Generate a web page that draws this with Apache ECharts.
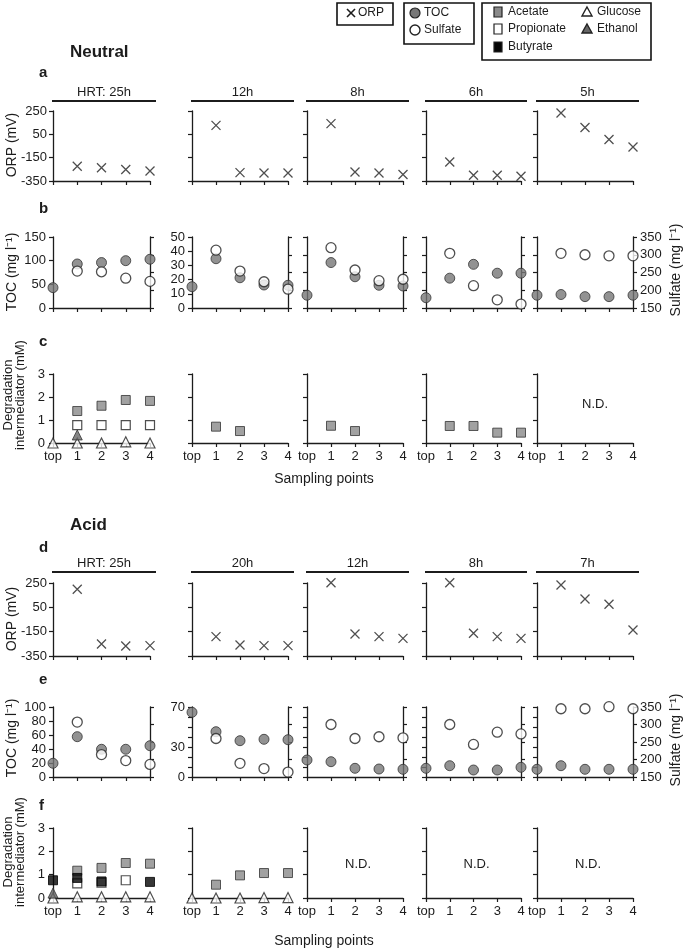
<!DOCTYPE html>
<html><head><meta charset="utf-8">
<script src="https://cdn.jsdelivr.net/npm/echarts@6/dist/echarts.min.js"></script>
<style>html,body{margin:0;padding:0;background:#fff}#c{width:685px;height:951px}</style>
</head><body><div id="c"></div>
<script>
// ---------------- DATA ----------------
const categories = ['top', '1', '2', '3', '4'];
const hrtNeutral = ['HRT: 25h', '12h', '8h', '6h', '5h'];
const hrtAcid = ['HRT: 25h', '20h', '12h', '8h', '7h'];
const N5 = [null, null, null, null, null];

// ORP (mV) ticks
const orpTicks = [-350, -150, 50, 250];

// Neutral: ORP (mV), per HRT column
const orpNeutral = [
  [null, -224, -236, -252, -264],
  [null, 127, -278, -282, -282],
  [null, 142, -273, -281, -295],
  [null, -187, -301, -301, -310],
  [null, 233, 108, 5, -58]
];
// Neutral: TOC (mg/l) (columns 3-5 on an unlabelled 0-100 axis)
const tocNeutral = [
  [43, 93, 96, 100, 103],
  [15, 34.7, 21.3, 16.2, 16],
  [18, 64, 44, 32, 31],
  [14.5, 42, 61.5, 49, 49],
  [18, 19, 16, 16, 18]
];
const sulfateNeutral = [
  [null, 254, 252, 234, 225],
  [null, 313, 254, 224, 203],
  [null, 320, 257, 227, 231],
  [null, 304, 213, 173, 161],
  [null, 304, 300, 297, 297]
];
const tocAxisNeutral = [[0, 150, 50], [0, 50, 10], [0, 100, 25], [0, 100, 25], [0, 100, 25]];
const tocLabelsNeutral = [[0, 50, 100, 150], [0, 10, 20, 30, 40, 50], [], [], []];
const sulfateAxis = [150, 350, 50];

// Neutral: degradation intermediates (mM)
const acetateNeutral = [
  [null, 1.39, 1.62, 1.87, 1.83],
  [null, 0.71, 0.52, null, null],
  [null, 0.75, 0.52, null, null],
  [null, 0.74, 0.74, 0.45, 0.45],
  N5
];
const propionateNeutral = [[null, 0.78, 0.78, 0.78, 0.78], N5, N5, N5, N5];
const butyrateNeutral = [N5, N5, N5, N5, N5];
const glucoseNeutral = [[0, 0, 0, 0.05, 0], N5, N5, N5, N5];
const ethanolNeutral = [[null, 0.35, null, null, null], N5, N5, N5, N5];
const ndNeutral = [false, false, false, false, true];

// Acid: ORP (mV)
const orpAcid = [
  [null, 198, -251, -268, -265],
  [null, -191, -260, -265, -265],
  [null, 252, -169, -191, -205],
  [null, 252, -163, -191, -205],
  [null, 234, 118, 75, -136]
];
// Acid: TOC (mg/l) (columns 3-5 on an unlabelled 0-70 axis)
const tocAcid = [
  [19.6, 57.6, 39.6, 39.6, 44.7],
  [64.7, 45.3, 36.3, 37.7, 37.3],
  [17, 15.3, 8.7, 8, 7.7],
  [8.7, 11.3, 7, 7, 9.7],
  [7.7, 11.3, 7.7, 7.7, 7.7]
];
const sulfateAcid = [
  [null, 307, 214, 197, 186],
  [null, 260, 189, 174, 164],
  [null, 300, 260, 265, 262],
  [null, 300, 243, 278, 273],
  [null, 345, 345, 351, 345]
];
const tocAxisAcid = [[0, 100, 20], [0, 70, 10], [0, 70, 10], [0, 70, 10], [0, 70, 10]];
const tocLabelsAcid = [[0, 20, 40, 60, 80, 100], [0, 30, 70], [], [], []];

// Acid: degradation intermediates (mM)
const acetateAcid = [[null, 1.17, 1.29, 1.5, 1.47], [null, 0.57, 0.97, 1.07, 1.07], N5, N5, N5];
const propionateAcid = [[null, 0.63, 0.66, 0.76, null], N5, N5, N5, N5];
const butyrateAcid = [[0.76, 0.86, 0.71, null, 0.69], N5, N5, N5, N5];
const glucoseAcid = [[0, 0.05, 0.05, 0.05, 0.05], [0, 0, 0, 0.02, 0.02], N5, N5, N5];
const ethanolAcid = [[0.21, null, null, null, null], N5, N5, N5, N5];
const ndAcid = [false, false, true, true, true];

// ---------------- LAYOUT ----------------
const colX = [53, 192, 307, 426, 537];
const colW = [97, 96, 96, 95, 96];
const rowY = [111, 237, 374, 583, 707, 828];
const rowH = [70, 71, 69, 73, 70, 70];
const FONT = '"Liberation Sans", Arial, sans-serif';
const INK = '#1c1c1c';

const rowsCfg = [
  { kind: 'orp', orp: orpNeutral },
  { kind: 'toc', toc: tocNeutral, sul: sulfateNeutral, axes: tocAxisNeutral, labels: tocLabelsNeutral },
  { kind: 'deg', ace: acetateNeutral, pro: propionateNeutral, but: butyrateNeutral, glu: glucoseNeutral, eth: ethanolNeutral },
  { kind: 'orp', orp: orpAcid },
  { kind: 'toc', toc: tocAcid, sul: sulfateAcid, axes: tocAxisAcid, labels: tocLabelsAcid },
  { kind: 'deg', ace: acetateAcid, pro: propionateAcid, but: butyrateAcid, glu: glucoseAcid, eth: ethanolAcid }
];

const fmtNum = v => (v < 0 ? '-' + Math.abs(v) : String(v));
const ORP0 = orpTicks[0];
const ORPSTEP = orpTicks[1] - orpTicks[0];
const ORPSPAN = orpTicks[orpTicks.length - 1] - orpTicks[0];

const grids = [], xAxes = [], yAxes = [], series = [];
const axisLineSty = { show: true, onZero: false, lineStyle: { color: INK, width: 1.3 } };
const tickSty = { show: true, length: 4, lineStyle: { color: INK, width: 1.2 } };
const lblBase = { fontSize: 13, color: INK, fontFamily: FONT };

function pts(arr, shift) {
  const out = [];
  arr.forEach((v, i) => { if (v !== null && v !== undefined) out.push([i, shift ? v - shift : v]); });
  return out;
}
function addScatter(gi, yi, arr, symbol, size, style, z, shift) {
  const d = pts(arr, shift);
  if (!d.length) return;
  series.push({
    type: 'scatter', xAxisIndex: gi, yAxisIndex: yi, data: d, symbol: symbol, symbolSize: size,
    itemStyle: style, clip: false, z: z, silent: true, animation: false
  });
}
function yAxis(gi, o) {
  const base = {
    gridIndex: gi, type: 'value', axisLine: axisLineSty, axisTick: tickSty,
    splitLine: { show: false }
  };
  yAxes.push(Object.assign(base, o));
  return yAxes.length - 1;
}

const CROSS = 'path://M0,0L10,10M10,0L0,10';
const sty = {
  orp: { color: 'rgba(0,0,0,0)', borderColor: '#222', borderWidth: 1.3 },
  toc: { color: '#777777', borderColor: '#333', borderWidth: 1 },
  sul: { color: '#ffffff', borderColor: '#222', borderWidth: 1.3 },
  ace: { color: '#8a8a8a', borderColor: '#333', borderWidth: 1 },
  pro: { color: '#ffffff', borderColor: '#222', borderWidth: 1.2 },
  but: { color: '#050505', borderColor: '#000', borderWidth: 1 },
  glu: { color: '#ffffff', borderColor: '#222', borderWidth: 1.2 },
  eth: { color: '#666666', borderColor: '#333', borderWidth: 1 }
};

rowsCfg.forEach((cfg, r) => {
  for (let c = 0; c < 5; c++) {
    const gi = grids.length;
    grids.push({ left: colX[c], top: rowY[r], width: colW[c], height: rowH[r] });
    xAxes.push({
      gridIndex: gi, type: 'category', data: categories, boundaryGap: false,
      axisLine: axisLineSty, axisTick: tickSty, splitLine: { show: false },
      axisLabel: Object.assign({ show: cfg.kind === 'deg', margin: 7, interval: 0 }, lblBase)
    });
    if (cfg.kind === 'orp') {
      const yi = yAxis(gi, {
        min: 0, max: ORPSPAN, interval: ORPSTEP,
        axisLabel: Object.assign({ show: c === 0, margin: 6, formatter: v => fmtNum(v + ORP0) }, lblBase)
      });
      addScatter(gi, yi, cfg.orp[c], CROSS, 9, sty.orp, 3, ORP0);
    } else if (cfg.kind === 'toc') {
      const ax = cfg.axes[c], labs = cfg.labels[c];
      const yl = yAxis(gi, {
        min: ax[0], max: ax[1], interval: ax[2],
        axisLabel: Object.assign({ show: labs.length > 0, margin: 7, formatter: v => (labs.indexOf(v) >= 0 ? String(v) : '') }, lblBase)
      });
      const yr = yAxis(gi, {
        position: 'right', min: sulfateAxis[0], max: sulfateAxis[1], interval: sulfateAxis[2],
        axisLabel: Object.assign({ show: c === 4, margin: 7 }, lblBase)
      });
      addScatter(gi, yl, cfg.toc[c], 'circle', 10, sty.toc, 3);
      addScatter(gi, yr, cfg.sul[c], 'circle', 10, sty.sul, 4);
    } else {
      const yi = yAxis(gi, {
        min: 0, max: 3, interval: 1,
        axisLabel: Object.assign({ show: c === 0, margin: 8 }, lblBase)
      });
      addScatter(gi, yi, cfg.pro[c], 'rect', 9, sty.pro, 3);
      addScatter(gi, yi, cfg.ace[c], 'rect', 9, sty.ace, 4);
      addScatter(gi, yi, cfg.but[c], 'rect', 9, sty.but, 5);
      addScatter(gi, yi, cfg.glu[c], 'triangle', 10, sty.glu, 6);
      addScatter(gi, yi, cfg.eth[c], 'triangle', 10, sty.eth, 7);
    }
  }
});

// ---------------- GRAPHIC (titles, headers, legend) ----------------
const g = [];
function txt(x, y, text, o) {
  o = o || {};
  g.push({
    type: 'text', x: x, y: y, rotation: o.rot || 0, silent: true,
    style: {
      text: text, fill: INK, font: (o.bold ? 'bold ' : '') + (o.size || 13) + 'px ' + FONT,
      textAlign: o.align || 'left', textVerticalAlign: 'middle', lineHeight: o.lh || undefined
    }
  });
}
function line(x1, y1, x2, y2, w) {
  g.push({ type: 'line', silent: true, shape: { x1, y1, x2, y2 }, style: { stroke: INK, lineWidth: w || 2 } });
}

txt(70, 52, 'Neutral', { bold: true, size: 17 });
txt(70, 525, 'Acid', { bold: true, size: 17 });
[['a', 73], ['b', 209], ['c', 342], ['d', 548], ['e', 680], ['f', 806]].forEach(p => txt(39, p[1], p[0], { bold: true, size: 15 }));

function headers(labels, ty, by) {
  labels.forEach((t, c) => {
    const x1 = colX[c] - 1, x2 = colX[c] + colW[c] + 6;
    line(x1, by, x2, by, 2);
    txt((x1 + x2) / 2, ty, t, { align: 'center', size: 13 });
  });
}
headers(hrtNeutral, 92, 101);
headers(hrtAcid, 563, 572);

// axis names
txt(12, 145, 'ORP (mV)', { rot: Math.PI / 2, align: 'center', size: 14 });
txt(12, 619, 'ORP (mV)', { rot: Math.PI / 2, align: 'center', size: 14 });
txt(12, 272, 'TOC (mg l\u207B\u00B9)', { rot: Math.PI / 2, align: 'center', size: 14 });
txt(12, 738, 'TOC (mg l\u207B\u00B9)', { rot: Math.PI / 2, align: 'center', size: 14 });
txt(676, 270, 'Sulfate (mg l\u207B\u00B9)', { rot: Math.PI / 2, align: 'center', size: 14 });
txt(676, 740, 'Sulfate (mg l\u207B\u00B9)', { rot: Math.PI / 2, align: 'center', size: 14 });
txt(14, 395, 'Degradation\nintermediator (mM)', { rot: Math.PI / 2, align: 'center', size: 13, lh: 12 });
txt(14, 852, 'Degradation\nintermediator (mM)', { rot: Math.PI / 2, align: 'center', size: 13, lh: 12 });

txt(324, 479, 'Sampling points', { align: 'center', size: 14 });
txt(324, 941, 'Sampling points', { align: 'center', size: 14 });

// N.D. marks
ndNeutral.forEach((nd, c) => { if (nd) txt(colX[c] + colW[c] / 2 + 10, 404, 'N.D.', { align: 'center', size: 13 }); });
ndAcid.forEach((nd, c) => { if (nd) txt(colX[c] + colW[c] / 2 + 3, 864, 'N.D.', { align: 'center', size: 13 }); });

// legend boxes
function box(x, y, w, h) {
  g.push({ type: 'rect', silent: true, shape: { x, y, width: w, height: h }, style: { fill: 'none', stroke: '#111', lineWidth: 1.6 } });
}
box(337, 3, 56, 22);
line(347, 9, 355, 17, 1.6); line(355, 9, 347, 17, 1.6);
txt(358, 13, 'ORP', { size: 12 });

box(404, 3, 70, 41);
g.push({ type: 'circle', silent: true, shape: { cx: 415, cy: 13, r: 5 }, style: { fill: '#777', stroke: '#222', lineWidth: 1.2 } });
txt(424, 13, 'TOC', { size: 12 });
g.push({ type: 'circle', silent: true, shape: { cx: 415, cy: 30, r: 5 }, style: { fill: '#fff', stroke: '#222', lineWidth: 1.4 } });
txt(424, 30, 'Sulfate', { size: 12 });

box(482, 3, 169, 57);
function sq(cx, cy, fill) {
  g.push({ type: 'rect', silent: true, shape: { x: cx - 4, y: cy - 5, width: 8, height: 10 }, style: { fill: fill, stroke: '#222', lineWidth: 1.2 } });
}
function tri(cx, cy, fill) {
  g.push({ type: 'polygon', silent: true, shape: { points: [[cx, cy - 5], [cx + 5, cy + 4], [cx - 5, cy + 4]] }, style: { fill: fill, stroke: '#222', lineWidth: 1.4 } });
}
sq(498, 12, '#8a8a8a'); txt(508, 12, 'Acetate', { size: 12 });
sq(498, 29, '#fff'); txt(508, 29, 'Propionate', { size: 12 });
sq(498, 47, '#050505'); txt(508, 47, 'Butyrate', { size: 12 });
tri(587, 12, '#fff'); txt(597, 12, 'Glucose', { size: 12 });
tri(587, 29, '#666'); txt(597, 29, 'Ethanol', { size: 12 });

const chart = echarts.init(document.getElementById('c'), null, { renderer: 'canvas' });
chart.setOption({
  animation: false,
  backgroundColor: '#ffffff',
  textStyle: { fontFamily: FONT },
  grid: grids, xAxis: xAxes, yAxis: yAxes, series: series,
  graphic: { elements: g }
});
</script>
</body></html>
